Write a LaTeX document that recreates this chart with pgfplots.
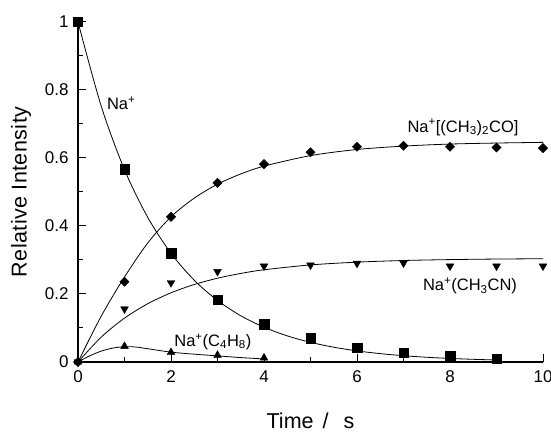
\documentclass[border=0pt]{standalone}
\usepackage{fontspec}
\setmainfont{Liberation Sans}
\usepackage{pgfplots}
\pgfplotsset{compat=1.18}
\begin{document}
\begin{tikzpicture}[x=1pt,y=1pt]
\useasboundingbox (-78,-71) rectangle (473,362);
\begin{axis}[at={(0,0)}, anchor=south west, scale only axis,
  width=465pt, height=340pt,
  xmin=0, xmax=10, ymin=0, ymax=1,
  axis x line=bottom, axis y line=left,
  axis line style={-, line width=1.1pt},
  xtick={0,2,4,6,8,10}, minor xtick={1,3,5,7,9},
  ytick={0,0.2,0.4,0.6,0.8,1}, minor ytick={0.1,0.3,0.5,0.7,0.9},
  tick align=inside, major tick length=8pt, minor tick length=5pt,
  tick style={line width=1pt, black},
  ticklabel style={font=\fontsize{17}{20}\selectfont},
  /pgf/number format/assume math mode=true,
  yticklabel style={/pgf/number format/fixed, /pgf/number format/precision=1, xshift=-6pt},
  xticklabel style={yshift=-5pt},
  xlabel={Time\hspace{9pt}/\hspace{15pt}s},
  ylabel={\addfontfeatures{LetterSpace=2}Relative Intensity},
  every axis x label/.style={at={(axis description cs:0.5,0)}, anchor=base, yshift=-66pt, font=\fontsize{21.5}{24}\selectfont},
  every axis y label/.style={at={(axis description cs:0,0.5)}, rotate=90, anchor=center, yshift=57pt, font=\fontsize{21.5}{24}\selectfont},
  clip=false]

% fitted curves
\addplot[black, line width=0.8pt, smooth, no marks] coordinates {
 (0,1) (0.5,0.752) (1,0.5655) (1.5,0.4253) (2,0.3198) (2.5,0.2405) (3,0.1809)
 (3.5,0.1360) (4,0.1023) (4.5,0.0769) (5,0.0578) (5.5,0.0435) (6,0.0327)
 (6.5,0.0246) (7,0.0185) (7.5,0.0139) (8,0.0105) (8.5,0.0079) (9,0.0059)};
\addplot[black, line width=0.8pt, smooth, no marks] coordinates {
 (0,0) (0.5,0.135) (1,0.25) (1.5,0.35) (2,0.427) (2.5,0.482) (3,0.523)
 (3.5,0.553) (4,0.576) (5,0.607) (6,0.625) (7,0.635) (8,0.641) (9,0.644) (10,0.646)};
\addplot[black, line width=0.8pt, smooth, no marks] coordinates {
 (0,0) (0.5,0.0733) (1,0.129) (1.5,0.1714) (2,0.2035) (2.5,0.2279) (3,0.2464)
 (3.5,0.2605) (4,0.2712) (5,0.2855) (6,0.2937) (7,0.2985) (8,0.3012) (9,0.3028) (10,0.3037)};
\addplot[black, line width=0.8pt, smooth, no marks] coordinates {
 (0,0) (0.25,0.018) (0.5,0.032) (0.75,0.041) (1,0.045) (1.25,0.044) (1.5,0.039)
 (2,0.029) (2.5,0.023) (3,0.018) (3.5,0.013) (4,0.009)};

% data points
\addplot[only marks, mark=square*, mark size=4.7pt, black] coordinates {
 (0,1) (1,0.567) (2,0.32) (3,0.184) (4,0.111) (5,0.07) (6,0.042) (7,0.027) (8,0.018) (9,0.009)};
\addplot[only marks, mark=square*, mark size=3.3pt, mark options={rotate=45}, black] coordinates {
 (0,0) (1,0.236) (2,0.427) (3,0.527) (4,0.582) (5,0.617) (6,0.633) (7,0.636) (8,0.633) (9,0.631) (10,0.629)};
\addplot[only marks, mark=triangle*, mark size=4.5pt, mark options={rotate=180}, black] coordinates {
 (0,0) (1,0.156) (2,0.233) (3,0.266) (4,0.282) (5,0.285) (6,0.29) (7,0.291) (8,0.282) (9,0.282) (10,0.282)};
\addplot[only marks, mark=triangle*, mark size=4.5pt, black] coordinates {
 (0,0) (1,0.046) (2,0.028) (3,0.02) (4,0.012)};

\node[font=\fontsize{16.5}{19}\selectfont] at (axis cs:0.93,0.76) {Na\textsuperscript{+}};
\node[font=\fontsize{16.5}{19}\selectfont] at (axis cs:8.28,0.69) {Na\textsuperscript{+}[(CH\textsubscript{3})\textsubscript{2}CO]};
\node[font=\fontsize{16.5}{19}\selectfont] at (axis cs:8.43,0.224) {Na\textsuperscript{+}(CH\textsubscript{3}CN)};
\node[font=\fontsize{16.5}{19}\selectfont] at (axis cs:2.9,0.06) {Na\textsuperscript{+}(C\textsubscript{4}H\textsubscript{8})};
\end{axis}
\end{tikzpicture}
\end{document}
